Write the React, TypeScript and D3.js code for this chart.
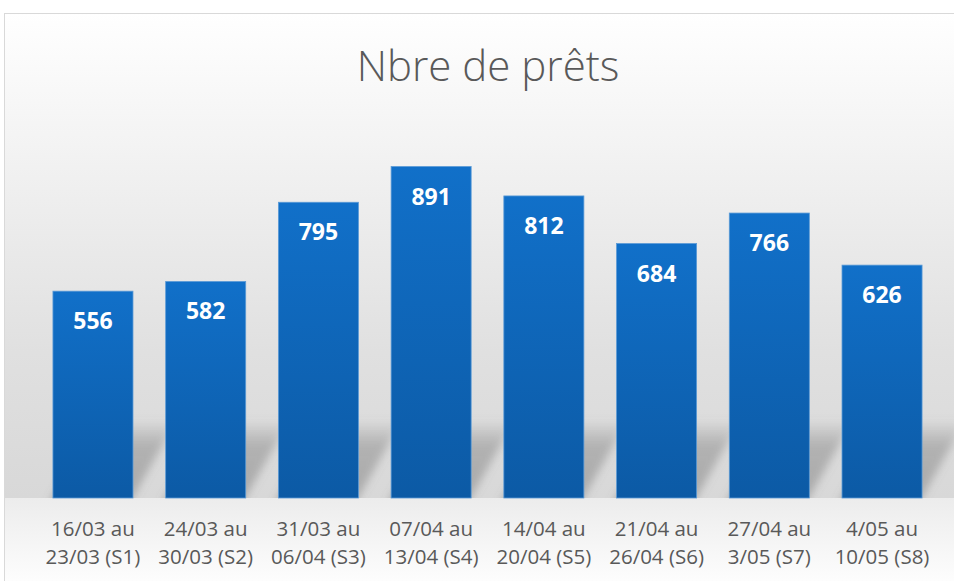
import React, { useEffect, useRef } from "react";
import * as d3 from "d3";

// data
const weeksTop = ["16/03 au", "24/03 au", "31/03 au", "07/04 au", "14/04 au", "21/04 au", "27/04 au", "4/05 au"];
const weeksBottom = ["23/03 (S1)", "30/03 (S2)", "06/04 (S3)", "13/04 (S4)", "20/04 (S5)", "26/04 (S6)", "3/05 (S7)", "10/05 (S8)"];
const prets = [556, 582, 795, 891, 812, 684, 766, 626];
const title = "Nbre de prêts";

const W = 954;
const H = 581;

const App = () => {
  const svgRef = useRef<SVGSVGElement>(null);

  useEffect(() => {
    const svg = d3.select(svgRef.current);
    svg.selectAll("*").remove();

    const base = 498;
    const x = d3
      .scaleBand<number>()
      .domain(d3.range(prets.length))
      .range([36.6, 938.4])
      .paddingInner(0.29)
      .paddingOuter(0.145);
    const y = d3.scaleLinear().domain([0, 1000]).range([base, 126]);

    const defs = svg.append("defs");

    // wall gradient
    const wall = defs.append("linearGradient").attr("id", "wall").attr("x1", 0).attr("y1", 0).attr("x2", 0).attr("y2", 1);
    wall.append("stop").attr("offset", "0%").attr("stop-color", "#ffffff");
    wall.append("stop").attr("offset", "25%").attr("stop-color", "#f4f4f4");
    wall.append("stop").attr("offset", "70%").attr("stop-color", "#e0e0e0");
    wall.append("stop").attr("offset", "100%").attr("stop-color", "#d8d8d8");

    const floor = defs.append("linearGradient").attr("id", "floor").attr("x1", 0).attr("y1", 0).attr("x2", 0).attr("y2", 1);
    floor.append("stop").attr("offset", "0%").attr("stop-color", "#ececec");
    floor.append("stop").attr("offset", "100%").attr("stop-color", "#fdfdfd");

    const bar = defs.append("linearGradient").attr("id", "bar").attr("x1", 0).attr("y1", 0).attr("x2", 0).attr("y2", 1);
    bar.append("stop").attr("offset", "0%").attr("stop-color", "#1170c9");
    bar.append("stop").attr("offset", "100%").attr("stop-color", "#0c5aa5");

    const shadeGrad = defs.append("linearGradient").attr("id", "shade").attr("x1", 0).attr("y1", 0).attr("x2", 0).attr("y2", 1);
    shadeGrad.append("stop").attr("offset", "0%").attr("stop-color", "#7a7a7a").attr("stop-opacity", 0);
    shadeGrad.append("stop").attr("offset", "30%").attr("stop-color", "#7a7a7a").attr("stop-opacity", 0.42);
    shadeGrad.append("stop").attr("offset", "100%").attr("stop-color", "#7a7a7a").attr("stop-opacity", 0.5);

    defs.append("filter").attr("id", "blur").attr("x", "-20%").attr("y", "-20%").attr("width", "140%").attr("height", "140%")
      .append("feGaussianBlur").attr("stdDeviation", 4);

    defs.append("clipPath").attr("id", "aboveBase").append("rect").attr("x", 0).attr("y", 0).attr("width", W).attr("height", base);

    // background
    svg.append("rect").attr("x", 4).attr("y", 13).attr("width", W).attr("height", base - 13).attr("fill", "url(#wall)");
    svg.append("rect").attr("x", 4).attr("y", base).attr("width", W).attr("height", H - base).attr("fill", "url(#floor)");
    svg.append("rect").attr("x", 4.5).attr("y", 13.5).attr("width", W + 10).attr("height", H).attr("fill", "none").attr("stroke", "#d9d9d9");

    // title
    svg.append("text")
      .attr("x", 488).attr("y", 81)
      .attr("text-anchor", "middle")
      .attr("font-family", "'Open Sans', sans-serif")
      .attr("font-weight", 300)
      .attr("font-size", 42)
      .attr("fill", "#595959")
      .text(title);

    // perspective shadows
    const dx = 44;
    const sh = 78;
    svg.append("g").attr("clip-path", "url(#aboveBase)")
      .selectAll("path")
      .data(prets)
      .join("path")
      .attr("d", (_, i) => {
        const x0 = x(i)!;
        const x1 = x0 + x.bandwidth();
        return `M${x0 - 4},${base + 6}L${x1 - 4},${base + 6}L${x1 + dx},${base - sh}L${x0 + dx},${base - sh}Z`;
      })
      .attr("fill", "url(#shade)")
      .attr("filter", "url(#blur)");

    // bars
    svg.append("g")
      .selectAll("rect")
      .data(prets)
      .join("rect")
      .attr("x", (_, i) => x(i)!)
      .attr("y", (d) => y(d))
      .attr("width", x.bandwidth())
      .attr("height", (d) => base - y(d))
      .attr("fill", "url(#bar)")
      .attr("stroke", "#5a9ad6")
      .attr("stroke-width", 0.8);

    // value labels
    svg.append("g")
      .selectAll("text")
      .data(prets)
      .join("text")
      .attr("x", (_, i) => x(i)! + x.bandwidth() / 2)
      .attr("y", (d) => y(d) + 38)
      .attr("text-anchor", "middle")
      .attr("font-family", "'Open Sans', sans-serif")
      .attr("font-weight", 700)
      .attr("font-size", 23)
      .attr("fill", "#ffffff")
      .text((d) => d);

    // category labels
    const lab = svg.append("g")
      .attr("font-family", "'Open Sans', sans-serif")
      .attr("font-size", 20.5)
      .attr("fill", "#595959")
      .attr("text-anchor", "middle");
    lab.selectAll("text.l1")
      .data(weeksTop)
      .join("text")
      .attr("class", "l1")
      .attr("x", (_, i) => x(i)! + x.bandwidth() / 2)
      .attr("y", 536)
      .text((d) => d);
    lab.selectAll("text.l2")
      .data(weeksBottom)
      .join("text")
      .attr("class", "l2")
      .attr("x", (_, i) => x(i)! + x.bandwidth() / 2)
      .attr("y", 564)
      .text((d) => d);
  }, []);

  return (
    <div style={{ position: "absolute", left: 0, top: 0, width: W, height: H, background: "#fff" }}>
      <svg ref={svgRef} width={W} height={H} style={{ display: "block" }} />
    </div>
  );
};

export default App;
